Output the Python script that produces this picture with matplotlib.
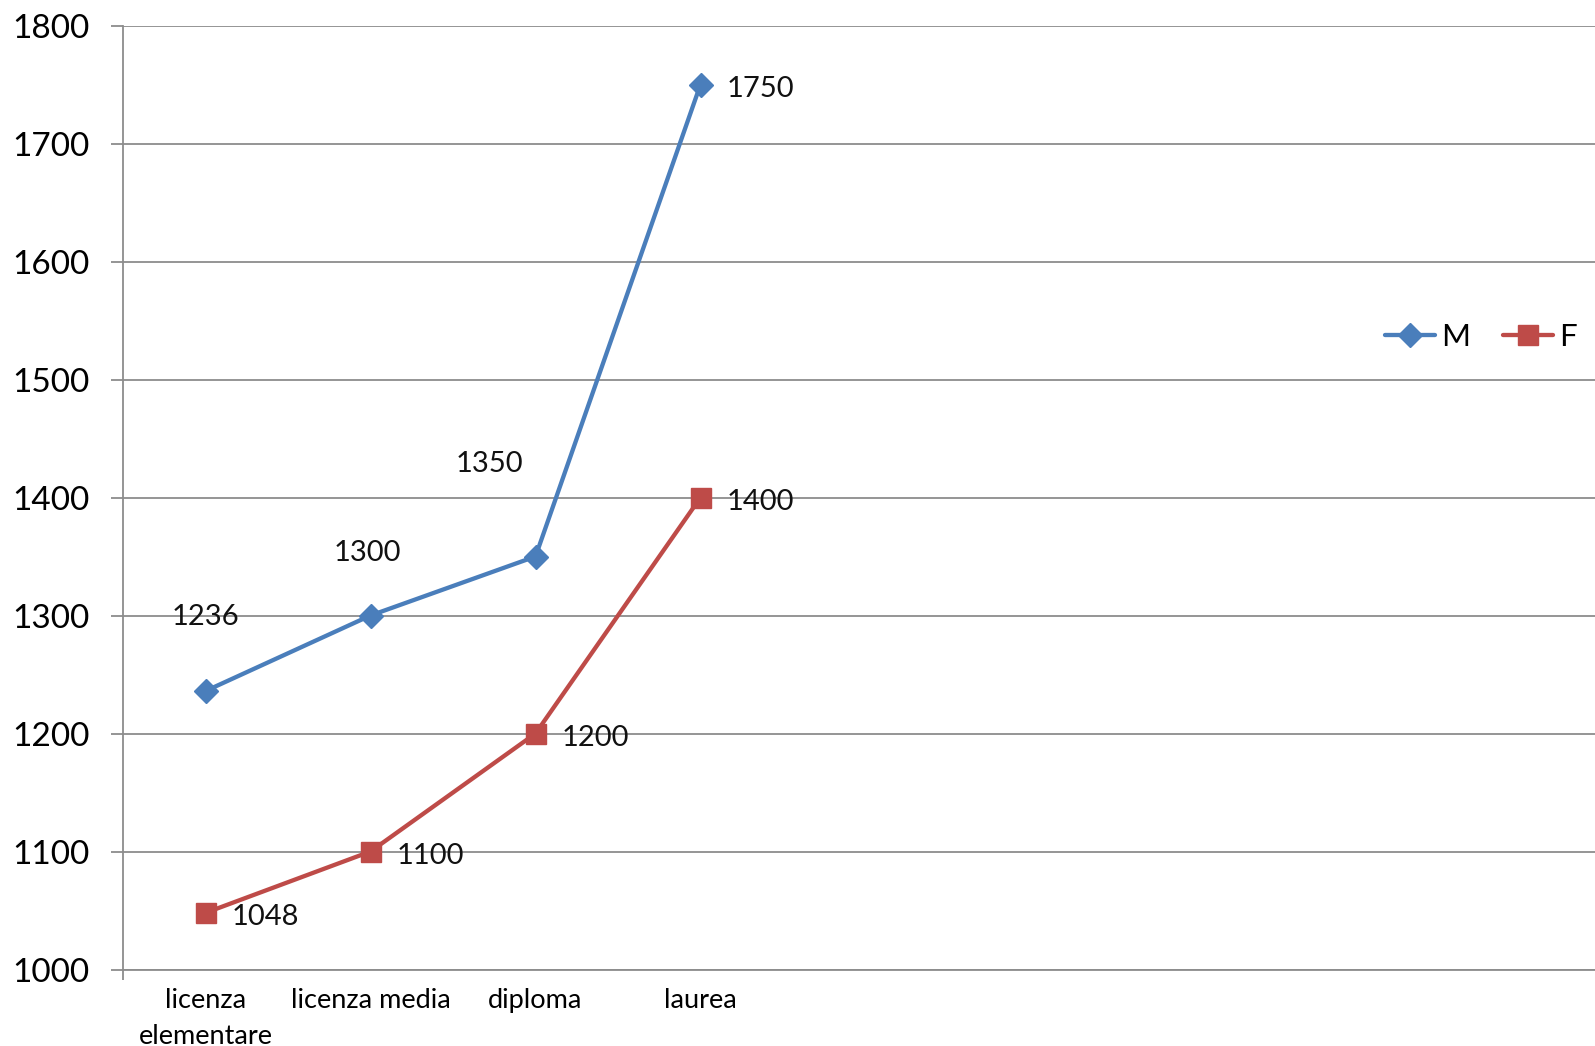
import matplotlib
matplotlib.use("Agg")
import matplotlib.pyplot as plt

plt.rcParams['font.family'] = ['Lato', 'DejaVu Sans']

categories = ["licenza\nelementare", "licenza media", "diploma", "laurea"]
m_values = [1236, 1300, 1350, 1750]
f_values = [1048, 1100, 1200, 1400]
y_ticks = [1000, 1100, 1200, 1300, 1400, 1500, 1600, 1700, 1800]
series_names = ["M", "F"]

blue = "#4A7EBB"
red = "#BE4B48"
grid_c = "#8C8C8C"

fig = plt.figure(figsize=(15.95, 10.46), dpi=100)
ax = fig.add_axes([123/1595, 1 - 969.5/1046, 1 - 123/1595, (969.5 - 25.5)/1046])

x = list(range(len(categories)))
ax.plot(x, m_values, color=blue, lw=3.1, marker="D", ms=12, mec=blue, mfc=blue,
        label=series_names[0], solid_capstyle="round", zorder=3)
ax.plot(x, f_values, color=red, lw=3.1, marker="s", ms=14.5, mec=red, mfc=red,
        label=series_names[1], solid_capstyle="round", zorder=3)

ax.set_ylim(1000, 1800)
ax.set_xlim(-0.5, -0.5 + (1595 - 123) / 165)
ax.set_yticks(y_ticks)
ax.set_yticklabels([str(v) for v in y_ticks], fontsize=24)
ax.set_xticks(x)
ax.set_xticklabels(categories, fontsize=19.5, linespacing=1.55)
ax.tick_params(axis="x", length=0, pad=13)
ax.tick_params(axis="y", length=9, width=1.3, color=grid_c, pad=15)
ax.set_xticks([-0.5], minor=True)
ax.tick_params(axis="x", which="minor", length=7, width=1.3, color=grid_c)

ax.grid(axis="y", color=grid_c, lw=1.3)
ax.set_axisbelow(True)
for s in ["top", "right"]:
    ax.spines[s].set_visible(False)
for s in ["left", "bottom"]:
    ax.spines[s].set_color(grid_c)
    ax.spines[s].set_linewidth(1.3)

# data labels (offsets in pixels)
m_offsets = [(0, 73), (-3, 61), (-45, 91), (59, -4)]
f_offsets = [(59, -4), (59, -4), (59, -4), (59, -4)]
for i, v in enumerate(m_values):
    dx, dy = m_offsets[i]
    ax.annotate(str(v), (x[i], v), xytext=(dx * 1.017, dy * 1.017), textcoords="offset pixels",
                ha="center", va="center", fontsize=21, color="#111111")
for i, v in enumerate(f_values):
    dx, dy = f_offsets[i]
    ax.annotate(str(v), (x[i], v), xytext=(dx * 1.017, dy * 1.017), textcoords="offset pixels",
                ha="center", va="center", fontsize=21, color="#111111")

leg = fig.legend(loc="center left", bbox_to_anchor=(1385/1595, 1 - 337/1046), ncol=2,
                 frameon=False, fontsize=22.5, handlelength=1.6, handletextpad=0.2,
                 columnspacing=1.05, borderaxespad=0, borderpad=0)

fig.savefig("out.png", dpi=100)
